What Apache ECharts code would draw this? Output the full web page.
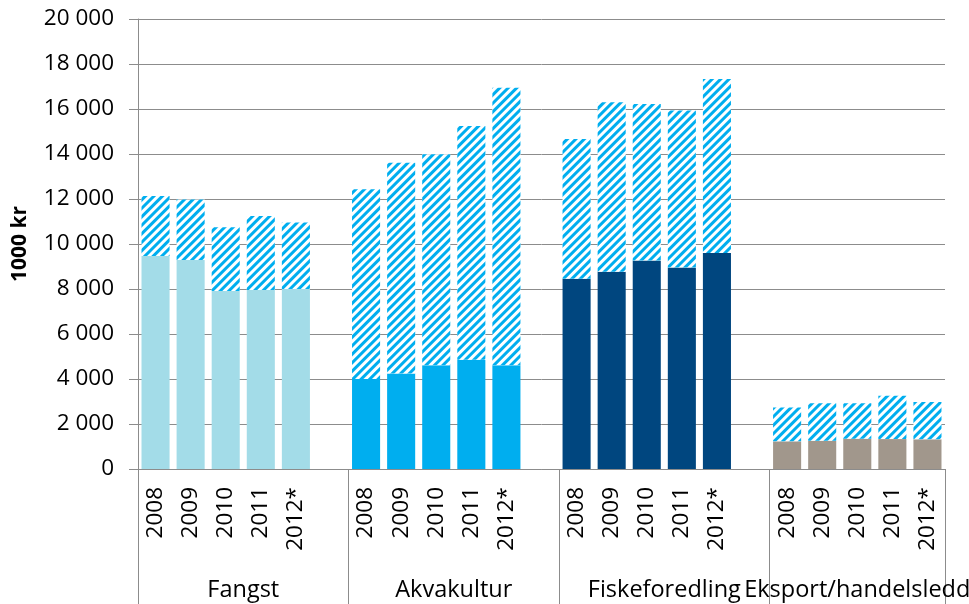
<!DOCTYPE html>
<html>
<head>
<meta charset="utf-8">
<script src="https://cdn.jsdelivr.net/npm/echarts@6/dist/echarts.min.js"></script>
<style>
  html, body { margin: 0; padding: 0; background: #fff; }
  #chart { width: 969px; height: 604px; }
</style>
</head>
<body>
<div id="chart"></div>
<script>
// data (1000 kr)
const groups = ['Fangst', 'Akvakultur', 'Fiskeforedling', 'Eksport/handelsledd'];
const years = ['2008', '2009', '2010', '2011', '2012*'];

const fangstBase = [9470, 9290, 7910, 7960, 8000];
const fangstTop = [2660, 2690, 2830, 3280, 2960];
const akvaBase = [4000, 4250, 4610, 4860, 4610];
const akvaTop = [8430, 9360, 9380, 10380, 12340];
const fiskBase = [8460, 8770, 9270, 8960, 9600];
const fiskTop = [6210, 7530, 6950, 6970, 7730];
const eksBase = [1230, 1260, 1350, 1330, 1320];
const eksTop = [1500, 1660, 1570, 1930, 1660];

const yTicks = [0, 2000, 4000, 6000, 8000, 10000, 12000, 14000, 16000, 18000, 20000];

const baseColors = ['#A3DCE8', '#00AEEF', '#00467F', '#A1978C'];
const hatchColor = '#00AEEF';
const lineColor = '#8C8C8C';
const font = 'Open Sans';

const bases = [fangstBase, akvaBase, fiskBase, eksBase];
const tops = [fangstTop, akvaTop, fiskTop, eksTop];

// one empty slot after every group except the last
let categories = [];
let baseData = [];
let topData = [];
let groupEdges = [0];
let groupMids = [];
groups.forEach(function (g, i) {
  let start = categories.length;
  years.forEach(function (y, j) {
    categories.push(y);
    baseData.push({ value: bases[i][j], itemStyle: { color: baseColors[i] } });
    topData.push(tops[i][j]);
  });
  if (i < groups.length - 1) {
    categories.push('');
    baseData.push('-');
    topData.push('-');
  }
  groupEdges.push(categories.length);
  groupMids.push((start + categories.length) / 2);
});

function fmt(v) {
  return String(v).replace(/\B(?=(\d{3})+(?!\d))/g, ' ');
}

let myChart = echarts.init(document.getElementById('chart'));
let option = {
  animation: false,
  textStyle: { fontFamily: font },
  grid: { left: 138, right: 24, top: 19, bottom: 135, outerBoundsMode: 'none', containLabel: false },
  xAxis: [
    {
      type: 'category',
      data: categories,
      axisLine: { lineStyle: { color: lineColor } },
      axisTick: { interval: 0, length: 86, lineStyle: { color: lineColor } },
      axisLabel: { interval: 0, rotate: 90, margin: 18, fontSize: 22.5, color: '#000', fontFamily: font }
    },
    {
      type: 'value',
      position: 'bottom',
      min: 0,
      max: categories.length,
      axisLine: { show: false },
      splitLine: { show: false },
      axisTick: { show: true, customValues: groupEdges, length: 135, lineStyle: { color: lineColor } },
      axisLabel: {
        customValues: groupMids,
        margin: 109,
        fontSize: 23.5,
        color: '#000',
        fontFamily: font,
        formatter: function (v) { return groups[groupMids.indexOf(v)]; }
      }
    }
  ],
  yAxis: {
    type: 'value',
    min: yTicks[0],
    max: yTicks[yTicks.length - 1],
    interval: 2000,
    name: '1000 kr',
    nameLocation: 'middle',
    nameGap: 107,
    nameTextStyle: { fontSize: 21, fontWeight: 'bold', color: '#000', fontFamily: font },
    axisLine: { show: true, lineStyle: { color: lineColor } },
    axisTick: { show: true, length: 9, lineStyle: { color: lineColor } },
    axisLabel: { fontSize: 22.5, margin: 24, color: '#000', fontFamily: font, formatter: fmt },
    splitLine: { lineStyle: { color: lineColor } }
  },
  series: [
    {
      name: 'base',
      type: 'bar',
      stack: 'total',
      barWidth: '80%',
      data: baseData
    },
    {
      name: 'top',
      type: 'bar',
      stack: 'total',
      barWidth: '80%',
      itemStyle: {
        color: '#fff',
        decal: {
          symbol: 'rect',
          symbolSize: 1,
          color: hatchColor,
          dashArrayX: [1, 0],
          dashArrayY: [2.2, 2.2],
          rotation: -Math.PI / 4
        }
      },
      data: topData
    }
  ]
};
myChart.setOption(option);
</script>
</body>
</html>
